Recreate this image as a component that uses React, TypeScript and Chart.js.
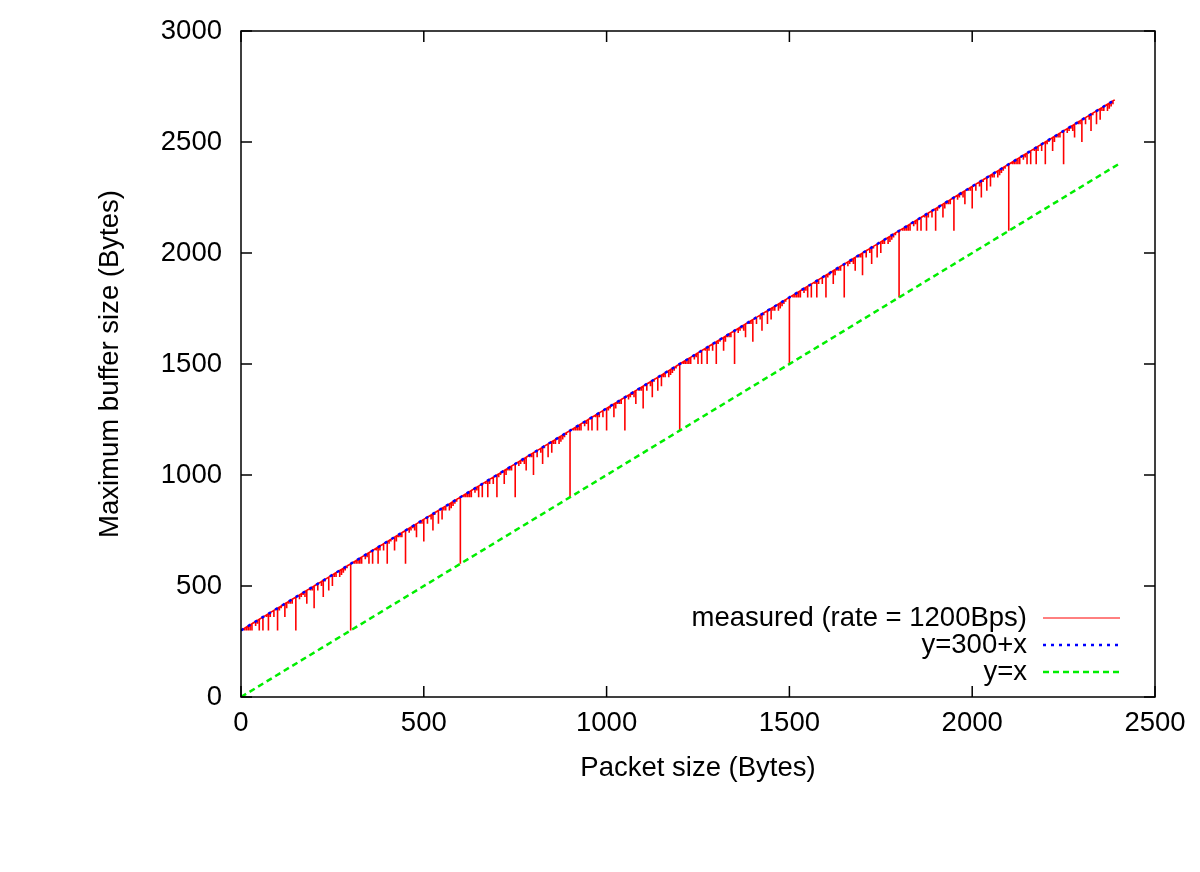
import React, { useEffect, useRef } from "react";
import { Chart, registerables } from "chart.js";

Chart.register(...registerables);

// Axis ticks
const xTicks = [0, 500, 1000, 1500, 2000, 2500];
const yTicks = [0, 500, 1000, 1500, 2000, 2500, 3000];

// Measured series: baseline follows y = 300 + x, with downward drops at these packet sizes
const measuredStartX = 1;
const measuredEndX = 2390;
const measuredTopOffset = 300;

const drop300X = [300, 600, 900, 1200, 1500, 1800, 2100];
const drop150X = [150, 450, 750, 1050, 1350, 1650, 1950, 2250];
const drop100X = [100, 200, 400, 500, 700, 800, 1000, 1100, 1300, 1400, 1600, 1700, 1900, 2000, 2200, 2300];
const drop75X = [75, 225, 375, 525, 675, 825, 975, 1125, 1275, 1425, 1575, 1725, 1875, 2025, 2175, 2325];
const drop60X = [60, 120, 180, 240, 360, 420, 480, 540, 660, 720, 780, 840, 960, 1020, 1080, 1140, 1260, 1320, 1380, 1440, 1560, 1620, 1680, 1740, 1860, 1920, 1980, 2040, 2160, 2220, 2280, 2340];
const drop50X = [50, 250, 350, 550, 650, 850, 950, 1150, 1250, 1450, 1550, 1750, 1850, 2050, 2150, 2350];
const drop30X = [30, 90, 210, 270, 330, 390, 510, 570, 630, 690, 810, 870, 930, 990, 1110, 1170, 1230, 1290, 1410, 1470, 1530, 1590, 1710, 1770, 1830, 1890, 2010, 2070, 2130, 2190, 2310, 2370];
const drop25X = [25, 125, 175, 275, 325, 425, 475, 575, 625, 725, 775, 875, 925, 1025, 1075, 1175, 1225, 1325, 1375, 1475, 1525, 1625, 1675, 1775, 1825, 1925, 1975, 2075, 2125, 2225, 2275, 2375];
const drop20X = [20, 40, 80, 140, 160, 220, 260, 280, 320, 340, 380, 440, 460, 520, 560, 580, 620, 640, 680, 740, 760, 820, 860, 880, 920, 940, 980, 1040, 1060, 1120, 1160, 1180, 1220, 1240, 1280, 1340, 1360, 1420, 1460, 1480, 1520, 1540, 1580, 1640, 1660, 1720, 1760, 1780, 1820, 1840, 1880, 1940, 1960, 2020, 2060, 2080, 2120, 2140, 2180, 2240, 2260, 2320, 2360, 2380];
const drop15X = [15, 45, 105, 135, 165, 195, 255, 285, 315, 345, 405, 435, 465, 495, 555, 585, 615, 645, 705, 735, 765, 795, 855, 885, 915, 945, 1005, 1035, 1065, 1095, 1155, 1185, 1215, 1245, 1305, 1335, 1365, 1395, 1455, 1485, 1515, 1545, 1605, 1635, 1665, 1695, 1755, 1785, 1815, 1845, 1905, 1935, 1965, 1995, 2055, 2085, 2115, 2145, 2205, 2235, 2265, 2295, 2355, 2385];
const drop10X = [10, 70, 110, 130, 170, 190, 230, 290, 310, 370, 410, 430, 470, 490, 530, 590, 610, 670, 710, 730, 770, 790, 830, 890, 910, 970, 1010, 1030, 1070, 1090, 1130, 1190, 1210, 1270, 1310, 1330, 1370, 1390, 1430, 1490, 1510, 1570, 1610, 1630, 1670, 1690, 1730, 1790, 1810, 1870, 1910, 1930, 1970, 1990, 2030, 2090, 2110, 2170, 2210, 2230, 2270, 2290, 2330, 2370];

const dropDepths = [300, 150, 100, 75, 60, 50, 30, 25, 20, 15, 10];
const dropLists = [drop300X, drop150X, drop100X, drop75X, drop60X, drop50X, drop30X, drop25X, drop20X, drop15X, drop10X];

// Reference lines
const line300X = [0, 2390];
const line300Y = [300, 2690];
const lineXX = [0, 2400];
const lineXY = [0, 2400];

const legendLabels = ["measured (rate = 1200Bps)", "y=300+x", "y=x"];

const FONT = "'Liberation Sans', Arial, Helvetica, sans-serif";
const FSIZE = 27.5;

function buildMeasured() {
  const drops: { x: number; d: number }[] = [];
  dropLists.forEach((list, i) => list.forEach((x) => drops.push({ x, d: dropDepths[i] })));
  drops.sort((a, b) => a.x - b.x);
  const pts: { x: number; y: number }[] = [{ x: measuredStartX, y: measuredStartX + measuredTopOffset }];
  drops.forEach(({ x, d }) => {
    const top = x + measuredTopOffset;
    pts.push({ x, y: top }, { x, y: top - d }, { x, y: top });
  });
  pts.push({ x: measuredEndX, y: measuredEndX + measuredTopOffset });
  return pts;
}

const framePlugin = {
  id: "gnuplotFrame",
  afterDatasetsDraw(chart: any) {
    const { ctx, chartArea: a, scales } = chart;
    const xs = scales.x;
    const ys = scales.y;
    ctx.save();
    ctx.strokeStyle = "#000";
    ctx.lineWidth = 1.5;
    ctx.setLineDash([]);
    ctx.strokeRect(a.left, a.top, a.right - a.left, a.bottom - a.top);
    const tl = 11;
    ctx.beginPath();
    xTicks.forEach((v) => {
      const px = xs.getPixelForValue(v);
      ctx.moveTo(px, a.bottom);
      ctx.lineTo(px, a.bottom - tl);
      ctx.moveTo(px, a.top);
      ctx.lineTo(px, a.top + tl);
    });
    yTicks.forEach((v) => {
      const py = ys.getPixelForValue(v);
      ctx.moveTo(a.left, py);
      ctx.lineTo(a.left + tl, py);
      ctx.moveTo(a.right, py);
      ctx.lineTo(a.right - tl, py);
    });
    ctx.stroke();

    // axis titles
    ctx.fillStyle = "#000";
    ctx.font = `${FSIZE}px ${FONT}`;
    ctx.textAlign = "center";
    ctx.textBaseline = "middle";
    ctx.fillText("Packet size (Bytes)", (a.left + a.right) / 2, 768);
    ctx.save();
    ctx.translate(110, (a.top + a.bottom) / 2);
    ctx.rotate(-Math.PI / 2);
    ctx.fillText("Maximum buffer size (Bytes)", 0, 0);
    ctx.restore();

    // legend
    const rowsY = [618, 645, 672];
    const textRight = 1027;
    const sx0 = 1043;
    const sx1 = 1120;
    ctx.textAlign = "right";
    chart.data.datasets.forEach((ds: any, i: number) => {
      ctx.fillStyle = "#000";
      ctx.fillText(legendLabels[i], textRight, rowsY[i]);
      ctx.strokeStyle = ds.borderColor;
      ctx.lineWidth = i === 0 ? 1 : ds.borderWidth;
      ctx.setLineDash(ds.borderDash || []);
      ctx.beginPath();
      ctx.moveTo(sx0, rowsY[i]);
      ctx.lineTo(sx1, rowsY[i]);
      ctx.stroke();
    });
    ctx.restore();
  },
};

export default function App() {
  const ref = useRef<HTMLCanvasElement | null>(null);
  useEffect(() => {
    if (!ref.current) return;
    const chart = new Chart(ref.current, {
      type: "scatter",
      data: {
        datasets: [
          {
            label: legendLabels[0],
            data: buildMeasured(),
            showLine: true,
            borderColor: "rgb(255,0,0)",
            borderWidth: 1.6,
            pointRadius: 0,
            order: 2,
          },
          {
            label: legendLabels[1],
            data: line300X.map((x, i) => ({ x, y: line300Y[i] })),
            showLine: true,
            borderColor: "rgb(0,0,255)",
            borderWidth: 2.5,
            borderDash: [3, 5],
            pointRadius: 0,
            order: 0,
          },
          {
            label: legendLabels[2],
            data: lineXX.map((x, i) => ({ x, y: lineXY[i] })),
            showLine: true,
            borderColor: "rgb(0,238,0)",
            borderWidth: 2.5,
            borderDash: [6, 4],
            pointRadius: 0,
            order: 1,
          },
        ],
      },
      options: {
        responsive: false,
        animation: false,
        events: [],
        layout: { padding: { top: 31, right: 45, left: 0, bottom: 0 } },
        plugins: { legend: { display: false }, tooltip: { enabled: false } },
        scales: {
          x: {
            type: "linear",
            min: 0,
            max: 2500,
            grid: { display: false, drawTicks: false },
            border: { display: false },
            afterFit: (s: any) => {
              s.height = 175;
              s.paddingLeft = 0;
              s.paddingRight = 0;
            },
            afterBuildTicks: (s: any) => {
              s.ticks = xTicks.map((v) => ({ value: v }));
            },
            ticks: {
              padding: 10,
              font: { family: FONT, size: FSIZE },
              color: "#000",
              maxRotation: 0,
              callback: (v: any) => String(v),
            },
          },
          y: {
            type: "linear",
            min: 0,
            max: 3000,
            grid: { display: false, drawTicks: false },
            border: { display: false },
            afterFit: (s: any) => {
              s.width = 241;
              s.paddingTop = 0;
              s.paddingBottom = 0;
            },
            afterBuildTicks: (s: any) => {
              s.ticks = yTicks.map((v) => ({ value: v }));
            },
            ticks: {
              padding: 19,
              font: { family: FONT, size: FSIZE },
              color: "#000",
              callback: (v: any) => String(v),
            },
          },
        },
      },
      plugins: [framePlugin],
    });
    return () => chart.destroy();
  }, []);
  return (
    <div style={{ position: "absolute", left: 0, top: 0, width: 1200, height: 872, background: "#fff" }}>
      <canvas ref={ref} width={1200} height={872} style={{ width: 1200, height: 872 }} />
    </div>
  );
}
